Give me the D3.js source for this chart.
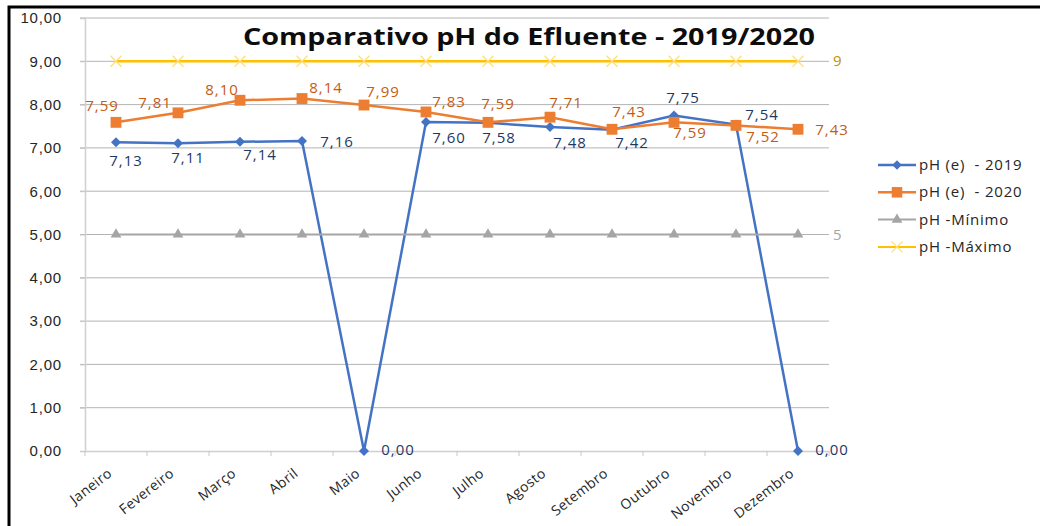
<!DOCTYPE html>
<html>
<head>
<meta charset="utf-8">
<script src="https://cdn.jsdelivr.net/npm/d3@7"></script>
<style>
	body { margin: 0; background: #fff; }
	svg { display: block; font-family: "Open Sans", sans-serif; }
</style>
</head>
<body>
<svg width="1040" height="526"></svg>
<script>
var months = ["Janeiro", "Fevereiro", "Março", "Abril", "Maio", "Junho",
	"Julho", "Agosto", "Setembro", "Outubro", "Novembro", "Dezembro"];
var ph2019 = [7.13, 7.11, 7.14, 7.16, 0.0, 7.60, 7.58, 7.48, 7.42, 7.75, 7.54, 0.0];
var ph2020 = [7.59, 7.81, 8.10, 8.14, 7.99, 7.83, 7.59, 7.71, 7.43, 7.59, 7.52, 7.43];
var phMin = [5, 5, 5, 5, 5, 5, 5, 5, 5, 5, 5, 5];
var phMax = [9, 9, 9, 9, 9, 9, 9, 9, 9, 9, 9, 9];
var yTicks = [0, 1, 2, 3, 4, 5, 6, 7, 8, 9, 10];
var seriesNames = ["pH (e)  - 2019", "pH (e)  - 2020", "pH -Mínimo", "pH -Máximo"];

// label placement (offset from the point, text baseline), like excel puts them
var off2019 = [[10, 24], [10, 20], [20, 18], [35, 6], [34, 4], [23, 21],
	[11, 20], [20, 21], [20, 18], [9, -12], [26, -5], [34, 4]];
var off2020 = [[-14, -11], [-23, -5], [-18, -5], [24, -6], [19, -8], [23, -5],
	[10, -13], [16, -9], [17, -12], [16, 16], [27, 17], [34, 6]];

var fmt = function(v) { return d3.format(".2f")(v).replace(".", ","); };

var svg = d3.select("svg");

var x = d3.scaleBand().domain(months).range([85, 829]);
var y = d3.scaleLinear().domain([0, 10]).range([451, 18]);
var cx = function(m) { return x(m) + x.bandwidth() / 2; };

// gridlines
svg.append("g")
	.selectAll("line")
	.data(yTicks.filter(function(d) { return d > 0; }))
	.enter()
	.append("line")
	.attr("x1", 80)
	.attr("x2", 829)
	.attr("y1", function(d) { return y(d); })
	.attr("y2", function(d) { return y(d); })
	.attr("stroke", "#b4b4b4")
	.attr("stroke-width", 1);

var yAxis = svg.append("g")
	.attr("transform", "translate(85,0)")
	.call(d3.axisLeft(y).tickValues(yTicks).tickSize(5).tickPadding(18).tickFormat(fmt));
yAxis.select(".domain").attr("stroke", "#d0d0d0").attr("stroke-width", 1.5);
yAxis.selectAll(".tick line").attr("stroke", "#c8c8c8");
yAxis.selectAll("text")
	.attr("font-size", 15)
	.attr("letter-spacing", 0.8)
	.attr("fill", "#262626");

var xAxis = svg.append("g")
	.attr("transform", "translate(0,451)")
	.call(d3.axisBottom(x).tickSize(0).tickFormat(""));
xAxis.select(".domain").attr("stroke", "#cfcfcf").attr("stroke-width", 1.5);

// ticks between categories
svg.append("g")
	.selectAll("line")
	.data(months.concat(["end"]))
	.enter()
	.append("line")
	.attr("x1", function(d, i) { return 85 + i * x.step(); })
	.attr("x2", function(d, i) { return 85 + i * x.step(); })
	.attr("y1", 451)
	.attr("y2", 456)
	.attr("stroke", "#c8c8c8");

svg.append("g")
	.selectAll("text")
	.data(months)
	.enter()
	.append("text")
	.attr("transform", function(d) { return "translate(" + (cx(d) - 3) + ",475) rotate(-38)"; })
	.attr("text-anchor", "end")
	.attr("font-size", 14)
	.attr("letter-spacing", 0.4)
	.attr("fill", "#262626")
	.text(function(d) { return d; });

// series
var line = d3.line()
	.x(function(d, i) { return cx(months[i]); })
	.y(function(d) { return y(d); });

function drawSeries(values, color, width, symbol, size, rot, mcolor) {
	var g = svg.append("g");
	g.append("path")
		.datum(values)
		.attr("d", line)
		.attr("fill", "none")
		.attr("stroke", color)
		.attr("stroke-width", width);
	g.selectAll(".m")
		.data(values)
		.enter()
		.append("path")
		.attr("transform", function(d, i) {
			return "translate(" + cx(months[i]) + "," + y(d) + ") rotate(" + rot + ")";
		})
		.attr("d", d3.symbol().type(symbol).size(size))
		.attr("fill", symbol === d3.symbolTimes ? "none" : mcolor)
		.attr("stroke", symbol === d3.symbolTimes ? mcolor : "none")
		.attr("stroke-width", 1.3);
	return g;
}

drawSeries(ph2019, "#4472c4", 2.5, d3.symbolSquare, 50, 45, "#4472c4");
drawSeries(ph2020, "#ed7d31", 2.5, d3.symbolSquare, 118, 0, "#ed7d31");
drawSeries(phMin, "#a5a5a5", 2, d3.symbolTriangle, 50, 0, "#a5a5a5");
drawSeries(phMax, "#ffc000", 2.5, d3.symbolTimes, 80, 0, "#ffdf7a");

// data labels
function labels(values, offs, color) {
	svg.append("g")
		.selectAll("text")
		.data(values)
		.enter()
		.append("text")
		.attr("x", function(d, i) { return cx(months[i]) + offs[i][0]; })
		.attr("y", function(d, i) { return y(d) + offs[i][1]; })
		.attr("text-anchor", "middle")
		.attr("font-size", 15)
		.attr("letter-spacing", 1)
		.attr("fill", color)
		.text(fmt);
}
labels(ph2019, off2019, "#1f3864");
labels(ph2020, off2020, "#c55a11");

svg.append("text")
	.attr("x", 833).attr("y", y(phMax[11]) + 5)
	.attr("font-size", 15).attr("fill", "#bf9000")
	.text(phMax[11]);
svg.append("text")
	.attr("x", 833).attr("y", y(phMin[11]) + 5)
	.attr("font-size", 15).attr("fill", "#a5a5a5")
	.text(phMin[11]);

// title
svg.append("text")
	.attr("x", 529)
	.attr("y", 45)
	.attr("text-anchor", "middle")
	.attr("font-size", 24)
	.attr("font-weight", "bold")
	.attr("fill", "#0d0d0d")
	.attr("textLength", 572)
	.attr("lengthAdjust", "spacingAndGlyphs")
	.text("Comparativo pH do Efluente - 2019/2020");

// legend
var legend = svg.append("g").attr("transform", "translate(878,165)");
var legendStyle = [
	{ c: "#4472c4", s: d3.symbolSquare, z: 45, r: 45, w: 2.5, mc: "#4472c4" },
	{ c: "#ed7d31", s: d3.symbolSquare, z: 110, r: 0, w: 2.5, mc: "#ed7d31" },
	{ c: "#a5a5a5", s: d3.symbolTriangle, z: 50, r: 0, w: 2, mc: "#a5a5a5" },
	{ c: "#ffc000", s: d3.symbolTimes, z: 80, r: 0, w: 2, mc: "#ffdf7a" }
];
var li = legend.selectAll("g")
	.data(seriesNames)
	.enter()
	.append("g")
	.attr("transform", function(d, i) { return "translate(0," + i * 27.3 + ")"; });
li.append("line")
	.attr("x1", 0).attr("x2", 38)
	.attr("stroke", function(d, i) { return legendStyle[i].c; })
	.attr("stroke-width", function(d, i) { return legendStyle[i].w; });
li.append("path")
	.attr("transform", function(d, i) { return "translate(19,0) rotate(" + legendStyle[i].r + ")"; })
	.attr("d", function(d, i) { return d3.symbol().type(legendStyle[i].s).size(legendStyle[i].z)(); })
	.attr("fill", function(d, i) { return legendStyle[i].s === d3.symbolTimes ? "none" : legendStyle[i].mc; })
	.attr("stroke", function(d, i) { return legendStyle[i].s === d3.symbolTimes ? legendStyle[i].mc : "none"; })
	.attr("stroke-width", 1.3);
li.append("text")
	.attr("x", 41)
	.attr("y", 5)
	.attr("font-size", 15)
	.attr("letter-spacing", 0.8)
	.attr("fill", "#262626")
	.attr("xml:space", "preserve")
	.style("white-space", "pre")
	.text(function(d) { return d; });

// black frame (top and left only)
svg.append("path")
	.attr("d", "M9,526 V7 H1040")
	.attr("fill", "none")
	.attr("stroke", "#000")
	.attr("stroke-width", 3);
</script>
</body>
</html>
